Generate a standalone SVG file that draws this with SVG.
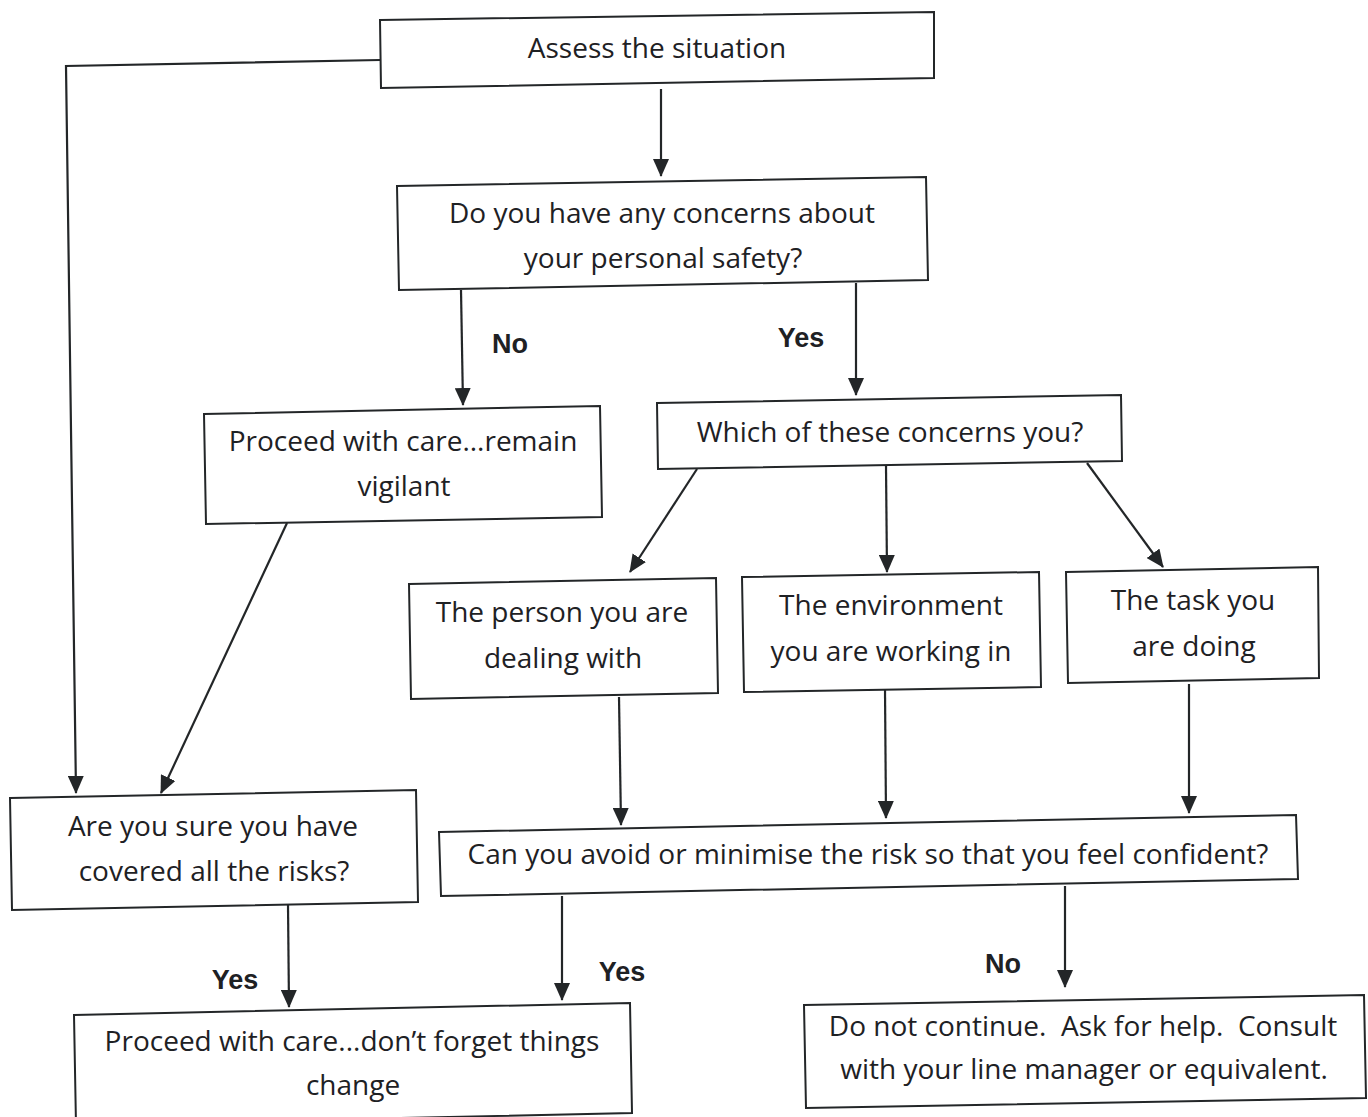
<svg xmlns="http://www.w3.org/2000/svg" width="1368" height="1117" viewBox="0 0 1368 1117">
<defs>
<marker id="ah" markerWidth="18" markerHeight="16" refX="17" refY="8" orient="auto" markerUnits="userSpaceOnUse">
<path d="M0,0 L18,8 L0,16 Z" fill="#232628"/>
</marker>
<style>
.box{fill:#fff;stroke:#232628;stroke-width:2}
.t{font-family:"Open Sans","Noto Sans",sans-serif;font-size:28px;fill:#1e2124;text-anchor:middle;white-space:pre}
.lbl{font-family:"Liberation Sans","Noto Sans",sans-serif;font-size:27px;font-weight:bold;fill:#1e2124;text-anchor:middle}
.c{fill:none;stroke:#232628;stroke-width:2.2}
</style>
</defs>
<rect width="1368" height="1117" fill="#fff"/>
<g id="connectors">
<path class="c" d="M380,60 L66,66 L76,793" marker-end="url(#ah)"/>
<path class="c" d="M661,89 L661,176" marker-end="url(#ah)"/>
<path class="c" d="M461,290 L463,405" marker-end="url(#ah)"/>
<path class="c" d="M856,283 L856,395" marker-end="url(#ah)"/>
<path class="c" d="M287,523 L161,793" marker-end="url(#ah)"/>
<path class="c" d="M697,469 L630,572" marker-end="url(#ah)"/>
<path class="c" d="M886,466 L887,572" marker-end="url(#ah)"/>
<path class="c" d="M1087,463 L1163,567" marker-end="url(#ah)"/>
<path class="c" d="M619,697 L621,825" marker-end="url(#ah)"/>
<path class="c" d="M885,690 L886,818" marker-end="url(#ah)"/>
<path class="c" d="M1189,684 L1189,813" marker-end="url(#ah)"/>
<path class="c" d="M288,905 L289,1007" marker-end="url(#ah)"/>
<path class="c" d="M562,896 L562,1000" marker-end="url(#ah)"/>
<path class="c" d="M1065,886 L1065,987" marker-end="url(#ah)"/>
<text class="lbl" x="510" y="353">No</text>
<text class="lbl" x="801" y="347">Yes</text>
<text class="lbl" x="235" y="989">Yes</text>
<text class="lbl" x="622" y="981">Yes</text>
<text class="lbl" x="1003" y="973">No</text>
</g>
<g id="n1"><path class="box" d="M380,20 L934,12 L934,78 L381,88 Z"/><text class="t" x="657" y="58">Assess the situation</text></g>
<g id="n2"><path class="box" d="M397,186 L926,177 L928,280 L399,290 Z"/><text class="t" x="662" y="223">Do you have any concerns about</text><text class="t" x="663" y="268">your personal safety?</text></g>
<g id="n3"><path class="box" d="M204,414 L600,406 L602,517 L206,524 Z"/><text class="t" x="403" y="451">Proceed with care...remain</text><text class="t" x="404" y="496">vigilant</text></g>
<g id="n4"><path class="box" d="M657,403 L1121,395 L1122,461 L658,469 Z"/><text class="t" x="890" y="442">Which of these concerns you?</text></g>
<g id="n5"><path class="box" d="M409,584 L716,578 L718,693 L411,699 Z"/><text class="t" x="562" y="622">The person you are</text><text class="t" x="563" y="668">dealing with</text></g>
<g id="n6"><path class="box" d="M742,577 L1039,572 L1041,687 L744,692 Z"/><text class="t" x="891" y="615">The environment</text><text class="t" x="891" y="661">you are working in</text></g>
<g id="n7"><path class="box" d="M1066,572 L1318,567 L1319,678 L1068,683 Z"/><text class="t" x="1193" y="610">The task you</text><text class="t" x="1194" y="656">are doing</text></g>
<g id="n8"><path class="box" d="M10,798 L416,790 L418,902 L12,910 Z"/><text class="t" x="213" y="836">Are you sure you have</text><text class="t" x="214" y="881">covered all the risks?</text></g>
<g id="n9"><path class="box" d="M439,832 L1296,815 L1298,879 L441,896 Z"/><text class="t" x="868" y="864">Can you avoid or minimise the risk so that you feel confident?</text></g>
<g id="n10"><path class="box" d="M74,1015 L630,1003 L632,1113 L76,1125 Z"/><text class="t" x="352" y="1051">Proceed with care...don’t forget things</text><text class="t" x="353" y="1095">change</text></g>
<g id="n11"><path class="box" d="M804,1005 L1364,995 L1366,1098 L806,1108 Z"/><text class="t" x="1083" y="1036">Do not continue.  Ask for help.  Consult</text><text class="t" x="1084" y="1079">with your line manager or equivalent.</text></g>
</svg>
